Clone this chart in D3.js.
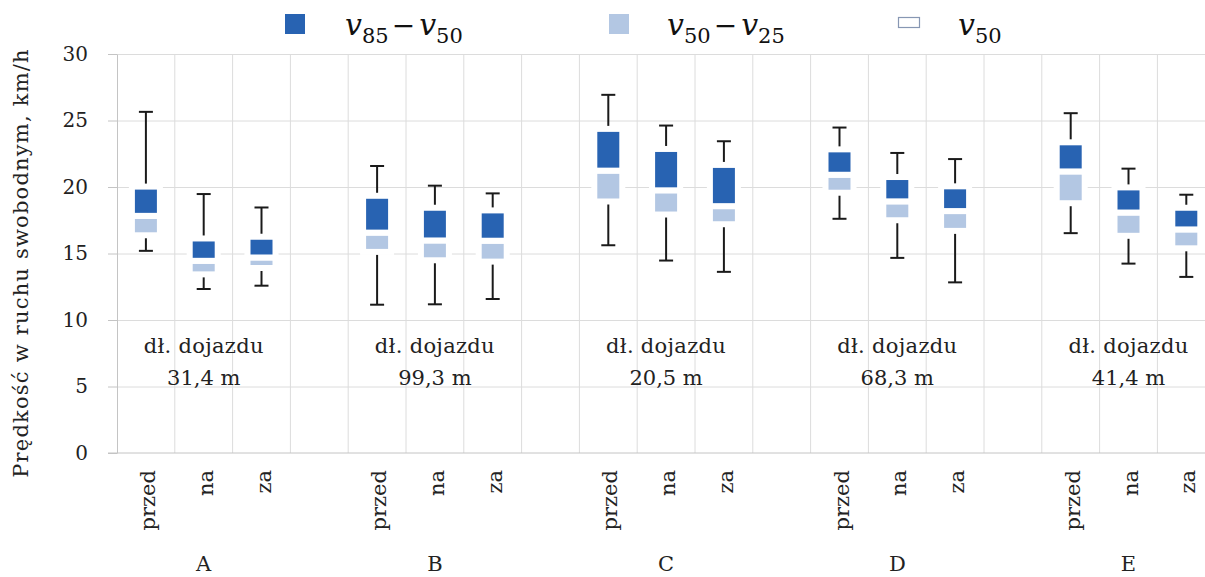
<!DOCTYPE html>
<html lang="pl">
<head>
<meta charset="UTF-8">
<title>Prędkość w ruchu swobodnym</title>
<script src="https://d3js.org/d3.v7.min.js"></script>
<style>
  body { margin: 0; background: #fff; }
  svg { display: block; font-family: "DejaVu Serif", serif; }
  .grid line { stroke: #dcdcdc; stroke-width: 1; }
  .grid path { display: none; }
  .yaxis path, .yaxis line { stroke: #c4c4c4; }
  .yaxis text { font-size: 20px; fill: #222; font-family: "DejaVu Serif", serif; }
  .whisker { stroke: #1a1a1a; stroke-width: 2; }
  .lbl { font-size: 21px; fill: #222; }
</style>
</head>
<body>
<svg id="chart"></svg>
<script>
// groups (sites) and measuring positions
var groups = ['A', 'B', 'C', 'D', 'E'];
var positions = ['przed', 'na', 'za'];
var approachLength = ['31,4 m', '99,3 m', '20,5 m', '68,3 m', '41,4 m'];

// values in km/h, order: A przed, A na, A za, B przed, ... E za
var vMax = [25.65, 19.47, 18.46, 21.58, 20.10, 19.52, 26.93, 24.62, 23.44, 24.47, 22.56, 22.10, 25.55, 21.38, 19.42];
var v85  = [20.03, 16.13, 16.26, 19.34, 18.44, 18.24, 24.37, 22.86, 21.66, 22.83, 20.75, 20.05, 23.36, 19.97, 18.44];
var v50  = [17.83, 14.45, 14.70, 16.57, 15.98, 15.96, 21.23, 19.75, 18.56, 20.92, 18.92, 18.19, 21.17, 18.08, 16.81];
var v25  = [16.37, 13.43, 13.91, 15.12, 14.49, 14.39, 18.91, 17.93, 17.20, 19.57, 17.50, 16.70, 18.78, 16.33, 15.39];
var vMin = [15.20, 12.33, 12.58, 11.15, 11.18, 11.58, 15.62, 14.47, 13.62, 17.61, 14.67, 12.83, 16.53, 14.24, 13.24];

var yTicks = [0, 5, 10, 15, 20, 25, 30];

var W = 1205, H = 577;
var darkBlue = '#2863b2', lightBlue = '#b3c7e3';

var svg = d3.select('#chart').attr('width', W).attr('height', H);

// slots: 3 positions per group, one empty slot between groups
var slots = [];
groups.forEach(function(g, gi) {
    positions.forEach(function(p) { slots.push(g + '|' + p); });
    if (gi < groups.length - 1) slots.push('gap' + gi);
});

var left = 117, step = 57.8;
var x = d3.scaleBand().domain(slots).range([left, left + slots.length * step]).padding(0);
var y = d3.scaleLinear().domain([0, 30]).range([453, 54]);
var bw = x.bandwidth();

// horizontal grid
svg.append('g').attr('class', 'grid')
   .attr('transform', 'translate(' + left + ',0)')
   .call(d3.axisLeft(y).tickValues(yTicks.slice(1)).tickSize(-(W - left)).tickFormat(''));

// vertical grid at slot borders
svg.append('g').attr('class', 'grid')
   .selectAll('line').data(slots.slice(1)).join('line')
   .attr('x1', d => x(d)).attr('x2', d => x(d))
   .attr('y1', y(30)).attr('y2', y(0));

// y axis
svg.append('g').attr('class', 'yaxis')
   .attr('transform', 'translate(' + left + ',0)')
   .call(d3.axisLeft(y).tickValues(yTicks).tickSize(9).tickSizeOuter(0).tickPadding(20));
svg.append('line')
   .attr('x1', left - 9).attr('x2', W).attr('y1', y(0)).attr('y2', y(0))
   .attr('stroke', '#c4c4c4');

// boxes
var boxes = [];
groups.forEach(function(g, gi) {
    positions.forEach(function(p, pi) {
        var i = gi * positions.length + pi;
        boxes.push({ slot: g + '|' + p, max: vMax[i], p85: v85[i], p50: v50[i], p25: v25[i], min: vMin[i] });
    });
});
var cx = d => x(d.slot) + bw / 2;
var boxW = 28, capW = 14;

var bx = svg.append('g');
bx.selectAll('.wt').data(boxes).join('line').attr('class', 'whisker')
  .attr('x1', cx).attr('x2', cx).attr('y1', d => y(d.p85)).attr('y2', d => y(d.max));
bx.selectAll('.wtc').data(boxes).join('line').attr('class', 'whisker')
  .attr('x1', d => cx(d) - capW / 2).attr('x2', d => cx(d) + capW / 2)
  .attr('y1', d => y(d.max)).attr('y2', d => y(d.max));
bx.selectAll('.wb').data(boxes).join('line').attr('class', 'whisker')
  .attr('x1', cx).attr('x2', cx).attr('y1', d => y(d.p25)).attr('y2', d => y(d.min));
bx.selectAll('.wbc').data(boxes).join('line').attr('class', 'whisker')
  .attr('x1', d => cx(d) - capW / 2).attr('x2', d => cx(d) + capW / 2)
  .attr('y1', d => y(d.min)).attr('y2', d => y(d.min));

bx.selectAll('.lo').data(boxes).join('rect')
  .attr('x', d => cx(d) - boxW / 2).attr('width', boxW)
  .attr('y', d => y(d.p50)).attr('height', d => y(d.p25) - y(d.p50))
  .attr('fill', lightBlue).attr('stroke', '#fff').attr('stroke-width', 6);
bx.selectAll('.hi').data(boxes).join('rect')
  .attr('x', d => cx(d) - boxW / 2).attr('width', boxW)
  .attr('y', d => y(d.p85)).attr('height', d => y(d.p50) - y(d.p85))
  .attr('fill', darkBlue).attr('stroke', '#fff').attr('stroke-width', 6);

// category labels (rotated)
svg.append('g').selectAll('text').data(boxes).join('text')
   .attr('class', 'lbl')
   .attr('transform', d => 'translate(' + (cx(d) + 2) + ',470) rotate(-90)')
   .attr('text-anchor', 'end').attr('dominant-baseline', 'central')
   .text(d => d.slot.split('|')[1]);

// group labels and approach lengths
var gc = g => x(g + '|na') + bw / 2;
svg.append('g').selectAll('text').data(groups).join('text')
   .attr('class', 'lbl').attr('x', gc).attr('y', 571).attr('text-anchor', 'middle')
   .attr('font-size', 20)
   .text(d => d);
var ann = svg.append('g');
ann.selectAll('.a1').data(groups).join('text')
   .attr('class', 'lbl').attr('x', gc).attr('y', 353).attr('text-anchor', 'middle')
   .attr('letter-spacing', 0.3)
   .text('dł. dojazdu');
ann.selectAll('.a2').data(groups).join('text')
   .attr('class', 'lbl').attr('x', gc).attr('y', 385).attr('text-anchor', 'middle')
   .text((d, i) => approachLength[i]);

// y title
svg.append('text').attr('class', 'lbl')
   .attr('transform', 'translate(21,263) rotate(-90)')
   .attr('text-anchor', 'middle').attr('dominant-baseline', 'central')
   .attr('font-size', 23).attr('letter-spacing', 1.2)
   .text('Prędkość w ruchu swobodnym, km/h');

// legend
var lg = svg.append('g');
function mathLabel(xPos, parts) {
    var t = lg.append('text').attr('x', xPos).attr('y', 35).attr('fill', '#111');
    parts.forEach(function(p, k) {
        if (p.v) t.append('tspan').attr('font-style', 'italic').attr('font-size', 30)
                  .attr('dx', k > 0 ? 4 : 0).text('v');
        if (p.sub) t.append('tspan').attr('font-size', 21).attr('dy', 8).text(p.sub);
        if (p.after) t.append('tspan').attr('font-size', 28).attr('dy', -8).attr('dx', 3).text(p.after);
    });
}
lg.append('rect').attr('x', 285).attr('y', 14).attr('width', 20).attr('height', 20).attr('fill', darkBlue);
mathLabel(345, [{ v: true, sub: '85', after: '\u2212' }, { v: true, sub: '50' }]);
lg.append('rect').attr('x', 609).attr('y', 14).attr('width', 20).attr('height', 20).attr('fill', lightBlue);
mathLabel(667, [{ v: true, sub: '50', after: '\u2212' }, { v: true, sub: '25' }]);
lg.append('rect').attr('x', 898.5).attr('y', 17.5).attr('width', 21).attr('height', 10)
  .attr('fill', '#fff').attr('stroke', '#8797b3').attr('stroke-width', 1.2);
mathLabel(958, [{ v: true, sub: '50' }]);
</script>
</body>
</html>
